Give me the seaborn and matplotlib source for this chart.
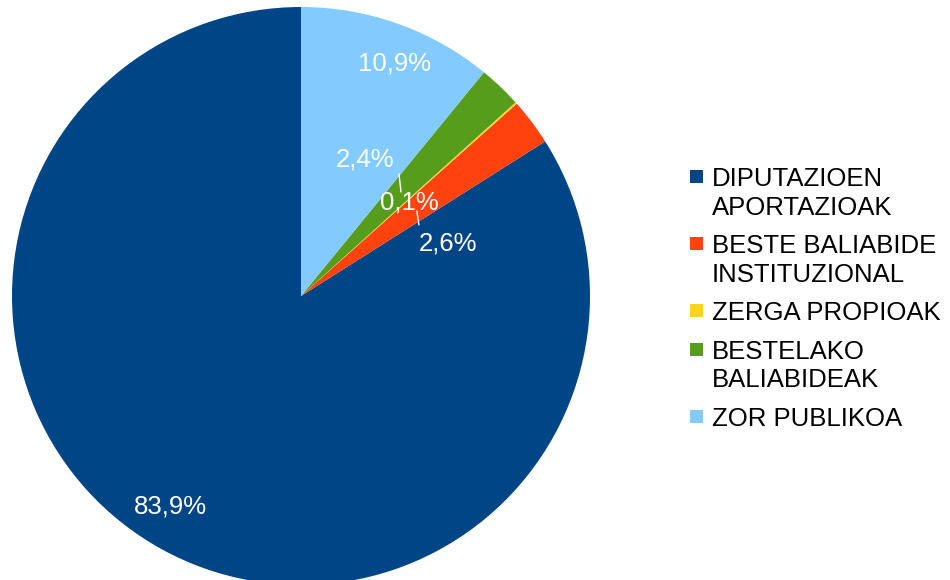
import numpy as np
import matplotlib
matplotlib.use("Agg")
import matplotlib.pyplot as plt
import matplotlib.transforms as mtransforms
from matplotlib.patches import Rectangle
import seaborn as sns

# Datuak
categories = ["DIPUTAZIOEN\nAPORTAZIOAK", "BESTE BALIABIDE\nINSTITUZIONAL",
              "ZERGA PROPIOAK", "BESTELAKO\nBALIABIDEAK", "ZOR PUBLIKOA"]
shares = [83.9, 2.6, 0.1, 2.4, 10.9]
colors = ["#004586", "#ff420e", "#ffd320", "#579d1c", "#83caff"]

sns.set_theme(style="white")
plt.rcParams['font.family'] = ['Liberation Sans', 'DejaVu Sans']

fig = plt.figure(figsize=(9.5, 5.8), dpi=100)
# pixel transform (0,0 = top left of the image)
px = mtransforms.Affine2D().scale(1 / 950, -1 / 580).translate(0, 1) + fig.transFigure

ax = fig.add_axes([12 / 950, -5 / 580, 578 / 950, 578 / 580])
wedges, _ = ax.pie(shares, colors=colors, startangle=90, counterclock=True,
                   radius=1, wedgeprops=dict(linewidth=0))
ax.set_xlim(-1, 1)
ax.set_ylim(-1, 1)
ax.set_aspect('equal')
ax.axis('off')

fs = 18.5

# label placement (angle in degrees, radius) for each slice
label_pos = [(238.2, 0.859), (19.8, 0.541), (41.0, 0.495), (64.9, 0.52), (68.0, 0.866)]
for v, (ang, r) in zip(shares, label_pos):
    a = np.deg2rad(ang)
    ax.text(r * np.cos(a), r * np.sin(a), f"{v:.1f}%".replace('.', ','),
            color='white', fontsize=fs, ha='center', va='center')

# leader lines for the small slices
ax.plot([0.339, 0.346], [0.422, 0.360], color='white', lw=1)
ax.plot([0.401, 0.408], [0.294, 0.246], color='white', lw=1)

# legend (square aligned with first line)
y = 177
for lab, c in zip(categories, colors):
    lines = lab.split('\n')
    fig.patches.append(Rectangle((690, y - 7), 13, 13, transform=px,
                                 facecolor=c, edgecolor='none'))
    for k, line in enumerate(lines):
        fig.text(712, y + 9.2 + k * 28.5, line, transform=px, fontsize=fs,
                 color='black', ha='left', va='baseline')
    y += (len(lines) - 1) * 28.5 + 38.5

fig.savefig("out.png", dpi=100)
